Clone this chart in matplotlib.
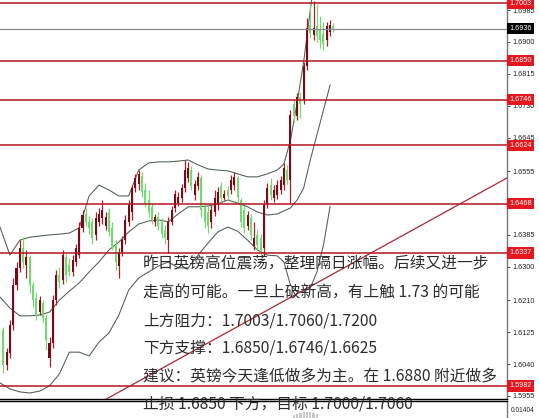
import matplotlib
matplotlib.use("Agg")
import matplotlib.pyplot as plt
from matplotlib import font_manager

# ---------------- GBP/USD 4H candles ----------------
opens = [1.6131, 1.6038, 1.6070, 1.6144, 1.6251, 1.6297, 1.6350, 1.6305, 1.6326, 1.6251,
         1.6217, 1.6179, 1.6203, 1.6163, 1.6056, 1.6096, 1.6211, 1.6278, 1.6265, 1.6326,
         1.6305, 1.6286, 1.6313, 1.6331, 1.6404, 1.6441, 1.6420, 1.6420, 1.6385, 1.6420,
         1.6430, 1.6409, 1.6446, 1.6404, 1.6355, 1.6302, 1.6339, 1.6371, 1.6420, 1.6446,
         1.6510, 1.6521, 1.6542, 1.6505, 1.6478, 1.6460, 1.6420, 1.6433, 1.6420, 1.6398,
         1.6371, 1.6420, 1.6457, 1.6470, 1.6484, 1.6510, 1.6537, 1.6558, 1.6492, 1.6516,
         1.6537, 1.6460, 1.6446, 1.6420, 1.6446, 1.6465, 1.6516, 1.6484, 1.6505, 1.6505,
         1.6518, 1.6537, 1.6478, 1.6452, 1.6409, 1.6430, 1.6355, 1.6385, 1.6377, 1.6350,
         1.6467, 1.6518, 1.6484, 1.6492, 1.6505, 1.6518, 1.6558, 1.6532, 1.6734, 1.6702,
         1.6753, 1.6745, 1.6836, 1.6945, 1.6919, 1.6943, 1.6932, 1.6921, 1.6905, 1.6927,
         1.6943]
highs = [1.6139, 1.6083, 1.6158, 1.6270, 1.6313, 1.6371, 1.6379, 1.6345, 1.6331, 1.6259,
         1.6233, 1.6222, 1.6211, 1.6171, 1.6112, 1.6225, 1.6291, 1.6299, 1.6345, 1.6334,
         1.6323, 1.6331, 1.6361, 1.6420, 1.6452, 1.6457, 1.6436, 1.6430, 1.6446, 1.6457,
         1.6478, 1.6446, 1.6457, 1.6420, 1.6371, 1.6350, 1.6382, 1.6438, 1.6478, 1.6518,
         1.6548, 1.6558, 1.6553, 1.6524, 1.6505, 1.6470, 1.6441, 1.6446, 1.6430, 1.6412,
         1.6433, 1.6462, 1.6505, 1.6500, 1.6521, 1.6585, 1.6580, 1.6569, 1.6532, 1.6553,
         1.6545, 1.6470, 1.6462, 1.6465, 1.6505, 1.6513, 1.6526, 1.6505, 1.6516, 1.6545,
         1.6553, 1.6542, 1.6484, 1.6462, 1.6449, 1.6441, 1.6420, 1.6398, 1.6387, 1.6478,
         1.6524, 1.6537, 1.6518, 1.6532, 1.6542, 1.6577, 1.6572, 1.6718, 1.6745, 1.6764,
         1.6766, 1.6847, 1.6964, 1.7007, 1.7010, 1.7001, 1.6969, 1.6953, 1.6953, 1.6959,
         1.6951]
lows = [1.6016, 1.6024, 1.6056, 1.6131, 1.6238, 1.6286, 1.6297, 1.6270, 1.6230, 1.6193,
        1.6158, 1.6171, 1.6153, 1.6078, 1.6032, 1.6083, 1.6198, 1.6243, 1.6254, 1.6259,
        1.6275, 1.6275, 1.6302, 1.6323, 1.6393, 1.6409, 1.6387, 1.6361, 1.6371, 1.6409,
        1.6414, 1.6398, 1.6382, 1.6345, 1.6291, 1.6270, 1.6329, 1.6361, 1.6409, 1.6425,
        1.6500, 1.6505, 1.6486, 1.6460, 1.6433, 1.6414, 1.6409, 1.6398, 1.6377, 1.6361,
        1.6337, 1.6412, 1.6446, 1.6462, 1.6473, 1.6500, 1.6526, 1.6505, 1.6478, 1.6505,
        1.6433, 1.6404, 1.6390, 1.6404, 1.6436, 1.6452, 1.6473, 1.6478, 1.6478, 1.6494,
        1.6505, 1.6473, 1.6406, 1.6390, 1.6398, 1.6371, 1.6345, 1.6345, 1.6323, 1.6329,
        1.6457, 1.6478, 1.6473, 1.6481, 1.6494, 1.6505, 1.6521, 1.6470, 1.6686, 1.6692,
        1.6697, 1.6734, 1.6825, 1.6911, 1.6905, 1.6900, 1.6884, 1.6879, 1.6889, 1.6916,
        1.6927]
closes = [1.6038, 1.6073, 1.6144, 1.6251, 1.6297, 1.6350, 1.6313, 1.6326, 1.6251, 1.6211,
          1.6171, 1.6211, 1.6163, 1.6104, 1.6096, 1.6211, 1.6278, 1.6259, 1.6331, 1.6278,
          1.6286, 1.6318, 1.6350, 1.6404, 1.6438, 1.6420, 1.6404, 1.6377, 1.6430, 1.6441,
          1.6452, 1.6433, 1.6393, 1.6355, 1.6313, 1.6339, 1.6371, 1.6425, 1.6465, 1.6510,
          1.6537, 1.6548, 1.6500, 1.6470, 1.6446, 1.6425, 1.6433, 1.6409, 1.6387, 1.6377,
          1.6420, 1.6452, 1.6494, 1.6486, 1.6510, 1.6558, 1.6564, 1.6516, 1.6521, 1.6540,
          1.6452, 1.6420, 1.6409, 1.6452, 1.6484, 1.6500, 1.6484, 1.6494, 1.6489, 1.6532,
          1.6540, 1.6486, 1.6420, 1.6404, 1.6438, 1.6385, 1.6377, 1.6358, 1.6345, 1.6465,
          1.6510, 1.6492, 1.6505, 1.6518, 1.6532, 1.6564, 1.6532, 1.6705, 1.6702, 1.6753,
          1.6734, 1.6836, 1.6937, 1.6924, 1.6937, 1.6916, 1.6905, 1.6895, 1.6943, 1.6945,
          1.6936]

# ---------------- Bollinger bands (sampled) ----------------
band_idx = [-1, 2, 5, 8, 11, 14, 17, 20, 23, 26, 29, 32, 35, 38, 41, 44, 47, 50, 53, 56,
            59, 62, 65, 68, 71, 74, 77, 80, 83, 85, 87, 89, 91, 93, 95, 97, 99]
bb_upper = [1.6406, 1.6331, 1.6371, 1.6379, 1.6382, 1.6385, 1.6387, 1.6390, 1.6404, 1.6489,
            1.6518, 1.6505, 1.6489, 1.6489, 1.6558, 1.6577, 1.6580, 1.6580, 1.6582, 1.6585,
            1.6572, 1.6561, 1.6558, 1.6556, 1.6548, 1.6540, 1.6540, 1.6548, 1.6558, 1.6574,
            1.6638, 1.6737, 1.6847, 1.6985, 1.7119, 1.7226, 1.7306]
bb_middle = [1.6219, 1.6190, 1.6169, 1.6169, 1.6171, 1.6179, 1.6211, 1.6235, 1.6257, 1.6286,
             1.6313, 1.6345, 1.6366, 1.6393, 1.6414, 1.6422, 1.6425, 1.6420, 1.6441, 1.6460,
             1.6460, 1.6462, 1.6468, 1.6478, 1.6470, 1.6460, 1.6446, 1.6438, 1.6441, 1.6449,
             1.6457, 1.6478, 1.6510, 1.6585, 1.6652, 1.6718, 1.6785]
bb_lower = [1.5990, 1.5974, 1.5966, 1.5963, 1.5968, 1.5982, 1.6014, 1.6072, 1.6072, 1.6062,
            1.6099, 1.6123, 1.6171, 1.6238, 1.6270, 1.6286, 1.6302, 1.6313, 1.6297, 1.6297,
            1.6331, 1.6363, 1.6393, 1.6406, 1.6395, 1.6371, 1.6345, 1.6331, 1.6329, 1.6313,
            1.6251, 1.6233, 1.6233, 1.6243, 1.6286, 1.6358, 1.6461]

# ---------------- Levels, trend line, axis ----------------
key_levels = [1.7003, 1.6850, 1.6746, 1.6624, 1.6468, 1.6337, 1.5982]
last_price = 1.6936
trend_x = [30, 153]
trend_y = [1.5941, 1.6539]
price_ticks = [1.5955, 1.6040, 1.6125, 1.6210, 1.6300, 1.6385, 1.6555,
               1.6645, 1.6730, 1.6815, 1.6900, 1.6985]
osc_idx = [88, 89, 90, 91, 92, 93, 94, 95]
osc_vals = [0.0045, 0.0070, 0.0080, 0.0095, 0.0090, 0.0100, 0.0080, 0.0060]
osc_max = 0.01404

comment_lines = [
    "昨日英镑高位震荡，整理隔日涨幅。后续又进一步",
    "走高的可能。一旦上破新高，有上触 1.73 的可能",
    "上方阻力：1.7003/1.7060/1.7200",
    "下方支撑：1.6850/1.6746/1.6625",
    "建议：英镑今天逢低做多为主。在 1.6880 附近做多",
    "止损 1.6850 下方，目标 1.7000/1.7060",
]

# ---------------- figure ----------------
W, H = 539, 418
fig = plt.figure(figsize=(W / 100, H / 100), dpi=100)
fig.patch.set_facecolor("white")

installed = {f.name for f in font_manager.fontManager.ttflist}
axis_font = [f for f in ["Liberation Sans Narrow", "Liberation Sans", "DejaVu Sans"]
             if f in installed] or ["DejaVu Sans"]
axis_fs = 6.3 if axis_font[0] == "Liberation Sans Narrow" else 5.2

ax = fig.add_axes([0, 1 - 398.5 / H, 507 / W, 398.5 / H])
sub = fig.add_axes([0, 0, 507 / W, 17.5 / H])

n = len(closes)
xs = list(range(n))
bull = "#7a0a18"
bull_wick = "#a8202c"
bear = "#74d874"

for i in xs:
    up = closes[i] >= opens[i]
    wc = bull_wick if up else bear
    ax.vlines(i, lows[i], highs[i], color=wc, lw=0.9, zorder=2)
    lo = min(opens[i], closes[i])
    hgt = max(abs(closes[i] - opens[i]), 0.00025)
    ax.bar(i, hgt, bottom=lo, width=0.62, color=bull if up else bear,
           edgecolor="none", zorder=2.2)

band_col = "#4e5e52"
for band in (bb_upper, bb_middle, bb_lower):
    ax.plot(band_idx, band, color=band_col, lw=0.75, zorder=1.8)

for lv in key_levels:
    ax.axhline(lv, color="#b3161e", lw=1.1, zorder=3)
ax.axhline(last_price, color="#8c8c8c", lw=0.9, zorder=3)
ax.plot(trend_x, trend_y, color="#a82a30", lw=0.9, zorder=3)

ax.set_xlim(-1, 152.6)
ax.set_ylim(1.59483, 1.70121)
ax.set_xticks([])
ax.yaxis.tick_right()
ax.set_yticks(price_ticks)
ax.set_yticklabels([f"{t:.4f}" for t in price_ticks], family=axis_font)
ax.tick_params(axis="y", length=2.5, width=0.6, pad=1.2, labelsize=axis_fs,
               colors="#222222", direction="out")
for s in ("top", "left"):
    ax.spines[s].set_visible(False)
ax.spines["bottom"].set_color("black")
ax.spines["bottom"].set_linewidth(1.0)
ax.spines["right"].set_color("#777777")
ax.spines["right"].set_linewidth(1.0)

box_x = 1.0 + 2.5 / 507
for lv in key_levels:
    ax.text(box_x, lv, f"{lv:.4f}", transform=ax.get_yaxis_transform(),
            ha="left", va="center", fontsize=axis_fs, color="white", family=axis_font,
            bbox=dict(boxstyle="square,pad=0.3", fc="#e5161e", ec="none"),
            clip_on=False, zorder=10)
ax.text(box_x, last_price, f"{last_price:.4f}", transform=ax.get_yaxis_transform(),
        ha="left", va="center", fontsize=axis_fs, color="white", family=axis_font,
        bbox=dict(boxstyle="square,pad=0.3", fc="black", ec="none"),
        clip_on=False, zorder=10)

# oscillator sub-window
sub.bar(osc_idx, osc_vals, width=0.7, color="#c8c8c8", edgecolor="none")
sub.set_xlim(-1, 152.6)
sub.set_ylim(0, osc_max * 17.5 / 9.0)
sub.set_xticks([])
sub.yaxis.tick_right()
sub.set_yticks([osc_max])
sub.set_yticklabels([f"{osc_max:.5f}"], family=axis_font)
sub.tick_params(axis="y", length=0, pad=2.5, labelsize=axis_fs - 0.4, colors="#222222")
for s in ("bottom", "left"):
    sub.spines[s].set_visible(False)
sub.spines["top"].set_color("black")
sub.spines["top"].set_linewidth(1.0)
sub.spines["right"].set_color("#777777")
sub.spines["right"].set_linewidth(1.0)

# commentary text
cjk = ["Noto Sans CJK SC", "DejaVu Sans"]
line_y = [264, 293, 321, 348, 376, 404]
for txt, yc in zip(comment_lines, line_y):
    fig.text(143 / W, 1 - yc / H, txt, fontsize=11.3, family=cjk,
             color="#2c2c2c", ha="left", va="center", zorder=20)

fig.savefig("out.png", dpi=100, facecolor="white")
